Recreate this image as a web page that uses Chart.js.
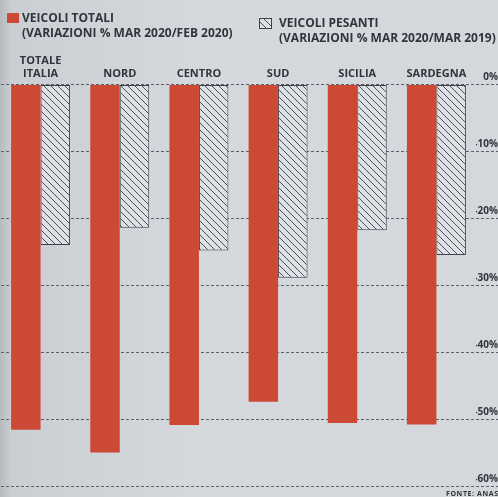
<!DOCTYPE html>
<html><head><meta charset="utf-8">
<script src="https://cdn.jsdelivr.net/npm/chart.js@4"></script>
<style>
html,body{margin:0;padding:0;width:498px;height:497px;overflow:hidden;
background:linear-gradient(to right,#b7bbc0 0px,#cbcfd4 12px,#d5d9dd 40%,#d4d8dc 100%);}
#wrap{position:relative;width:498px;height:497px;}
</style></head><body>
<div id="wrap"><canvas id="c" width="498" height="497"></canvas></div>
<script>
// ---- data ----
const categories = [['TOTALE','ITALIA'],'NORD','CENTRO','SUD','SICILIA','SARDEGNA'];
const veicoliTotali  = [-51.6,-55.0,-50.9,-47.4,-50.6,-50.8];
const veicoliPesanti = [-24.0,-21.4,-24.8,-28.9,-21.8,-25.5];
const legendTotali   = ['VEICOLI TOTALI','(VARIAZIONI % MAR 2020/FEB 2020)'];
const legendPesanti  = ['VEICOLI PESANTI','(VARIAZIONI % MAR 2020/MAR 2019)'];
const tickValues = [0,-10,-20,-30,-40,-50,-60];
const tickLabels = ['0%','-10%','-20%','-30%','-40%','-50%','-60%'];
const sourceNote = 'FONTE: ANAS';

// ---- styles ----
const RED = '#cc4a35';
const TEXT = '#30353b';
const GRID = '#5a6169';

function hatch(){
  const s = 7, p = document.createElement('canvas');
  p.width = s; p.height = s;
  const g = p.getContext('2d');
  g.fillStyle = '#dde0e4'; g.fillRect(0,0,s,s);
  g.strokeStyle = '#4b5057'; g.lineWidth = 1;
  g.beginPath();
  g.moveTo(-1,-1); g.lineTo(s+1,s+1);
  g.moveTo(-1,s-1); g.lineTo(1,s+1);
  g.moveTo(s-1,-1); g.lineTo(s+1,1);
  g.stroke();
  return g.createPattern(p,'repeat');
}
const HATCH = hatch();

const legendPlugin = {
  id:'customLegend',
  afterDraw(chart){
    const ctx = chart.ctx;
    ctx.save();
    const ds = chart.data.datasets;
    const items = [
      {lines: legendTotali,  bx:7,   by:13, tx:22,  ty:22},
      {lines: legendPesanti, bx:259, by:18, tx:279, ty:27}
    ];
    items.forEach((it,i)=>{
      ctx.fillStyle = ds[i].backgroundColor;
      ctx.fillRect(it.bx, it.by, 12, 10);
      if (ds[i].borderWidth){
        ctx.strokeStyle = ds[i].borderColor; ctx.lineWidth = 1;
        ctx.strokeRect(it.bx+0.5, it.by+0.5, 12, 10);
      }
      ctx.fillStyle = TEXT;
      ctx.font = 'bold 12px "Open Sans"';
      ctx.textBaseline = 'alphabetic';
      ctx.textAlign = 'left';
      it.lines.forEach((l,j)=>ctx.fillText(l, it.tx, it.ty + j*15));
    });
    ctx.font = 'bold 7px "Open Sans"';
    ctx.letterSpacing = '0.6px';
    ctx.fillText(sourceNote, 446, 496);
    ctx.restore();
  }
};

new Chart(document.getElementById('c'), {
  type:'bar',
  data:{
    labels: categories,
    datasets:[
      {label: legendTotali.join(' '), data: veicoliTotali, backgroundColor: RED, borderWidth:0,
       barPercentage:1.0, categoryPercentage:0.745},
      {label: legendPesanti.join(' '), data: veicoliPesanti, backgroundColor: HATCH,
       borderColor:'#3c4148', borderWidth:1, borderSkipped:false,
       barPercentage:1.0, categoryPercentage:0.745}
    ]
  },
  options:{
    responsive:false,
    animation:false,
    layout:{padding:{top:50,left:1,right:0,bottom:11}},
    plugins:{legend:{display:false}, tooltip:{enabled:false}, title:{display:false}},
    scales:{
      x:{
        position:'top',
        grid:{display:false, drawTicks:false},
        border:{display:false},
        ticks:{color:TEXT, font:{family:'Open Sans', size:11, weight:'bold'},
               padding:4, maxRotation:0, autoSkip:false}
      },
      y:{
        position:'right',
        min:-60, max:0,
        afterFit(s){ s.width = 22; },
        border:{display:false, dash:[3,2]},
        grid:{color:GRID, lineWidth:1, drawTicks:true, tickLength:22,
              tickColor:GRID, tickBorderDash:[3,2]},
        ticks:{stepSize:10, crossAlign:'far', labelOffset:-7, padding:0,
               color:TEXT, font:{family:'Open Sans', size:10, weight:'bold'},
               callback:(v)=>{const i = tickValues.indexOf(v); return i>=0 ? tickLabels[i] : '';}}
      }
    }
  },
  plugins:[legendPlugin]
});
</script>
</body></html>
